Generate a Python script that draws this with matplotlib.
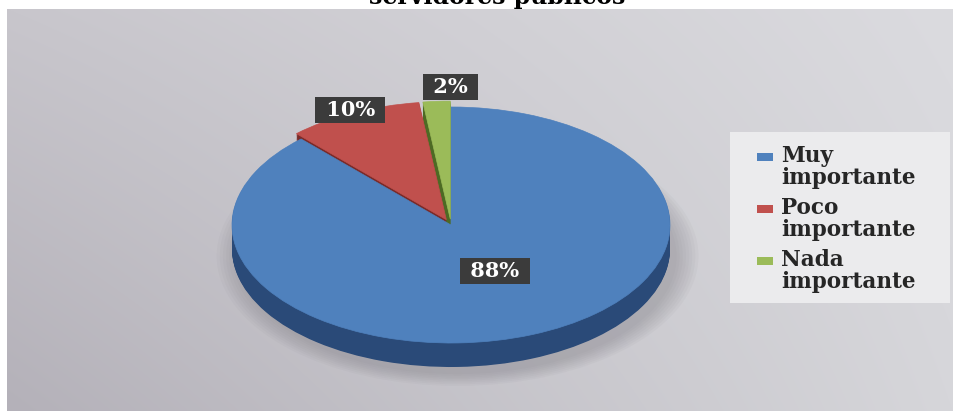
import numpy as np
import matplotlib.pyplot as plt
from matplotlib.patches import Rectangle, Ellipse

# datos del gráfico
categories = ['Muy importante', 'Poco importante', 'Nada importante']
values = [88, 10, 2]
pct_labels = ['88%', '10%', '2%']
title = 'servidores públicos'

top_colors = ['#4f81bd', '#c0504d', '#9bbb59']
side_colors = ['#2a4a78', '#7a2a28', '#4d6a24']
explode = [0, 0.05, 0.05]
label_r = [0.42, 1.08, 1.17]
label_dx = [0.045, 0.0, 0.07]

W, H = 954, 411
SERIF = 'DejaVu Serif'

fig = plt.figure(figsize=(W / 100, H / 100), dpi=100)
fig.patch.set_facecolor('white')

# fondo gris con degradado
bg = fig.add_axes([7 / W, 0, 1 - 7 / W, 1 - 9 / H])
gx, gy = np.meshgrid(np.linspace(0, 1, 300), np.linspace(0, 1, 150))
tl = np.array([0xc8, 0xc6, 0xcc]) / 255
tr = np.array([0xdb, 0xdb, 0xdf]) / 255
bl = np.array([0xb4, 0xb1, 0xb9]) / 255
br = np.array([0xd6, 0xd6, 0xda]) / 255
grad = (tl * ((1 - gx) * (1 - gy))[..., None] + tr * (gx * (1 - gy))[..., None]
        + bl * ((1 - gx) * gy)[..., None] + br * (gx * gy)[..., None])
bg.imshow(grad, aspect='auto', origin='upper', interpolation='bilinear')
bg.axis('off')

# ejes del pastel (elipse)
cx, cy, rx, ry = 451, 225, 219, 118
ext = 0.4
ax = fig.add_axes([(cx - rx) / W, (H - cy - ry * (1 + ext)) / H,
                   2 * rx / W, ry * (2 + 2 * ext) / H])
depth = 24 / ry

# sombra
for s in np.linspace(1.10, 1.0, 8):
    ax.add_patch(Ellipse((0.03, -depth - 0.06), 2 * s, 2 * s, color='#77757d',
                         alpha=0.05, lw=0, clip_on=False))

# lateral del pastel
for k in np.linspace(depth, 0.005, 30):
    sw, _ = ax.pie(values, colors=side_colors, startangle=90, counterclock=False,
                   explode=explode, center=(0, -k), wedgeprops=dict(linewidth=0))
    for w in sw:
        w.set_clip_on(False)

# cara superior
wedges, _ = ax.pie(values, colors=top_colors, startangle=90, counterclock=False,
                   explode=explode, center=(0, 0))
for w in wedges:
    w.set_edgecolor(w.get_facecolor())
    w.set_linewidth(0.5)
    w.set_clip_on(False)

ax.set_aspect('auto')
ax.set_xlim(-1, 1)
ax.set_ylim(-1 - ext, 1 + ext)
ax.axis('off')

# etiquetas de porcentaje
vals = np.array(values, dtype=float)
mid = np.deg2rad(90 - 360 * (np.cumsum(vals) - vals / 2) / vals.sum())
for lbl, a, r, dx in zip(pct_labels, mid, label_r, label_dx):
    ax.text(r * np.cos(a) + dx, r * np.sin(a), ' ' + lbl + ' ', ha='center', va='center',
            color='white', fontsize=15, fontweight='bold', family=SERIF,
            bbox=dict(boxstyle='square,pad=0.15', fc='#3b3b3b', ec='none'),
            zorder=5, clip_on=False)

# leyenda
fig.add_artist(Rectangle((730 / W, 1 - 303 / H), 220 / W, 171 / H,
                         transform=fig.transFigure, fc='#ebebed', ec='none'))
for i, (cat, col) in enumerate(zip(categories, top_colors)):
    y1 = 162 + 52 * i
    fig.add_artist(Rectangle((757 / W, 1 - (y1 - 1) / H), 16 / W, 8 / H,
                             transform=fig.transFigure, fc=col, ec='none'))
    first, second = cat.split(' ', 1)
    fig.text(781 / W, 1 - y1 / H, first, ha='left', va='baseline', fontsize=15.5,
             fontweight='bold', family=SERIF, color='#262626')
    fig.text(781 / W, 1 - (y1 + 22) / H, second, ha='left', va='baseline', fontsize=15.5,
             fontweight='bold', family=SERIF, color='#262626')

# título (cortado arriba como en la imagen)
fig.text(497 / W, 1 - 4 / H, title, ha='center', va='baseline', fontsize=17,
         fontweight='bold', family=SERIF, color='black')

fig.savefig('out.png', dpi=100)
